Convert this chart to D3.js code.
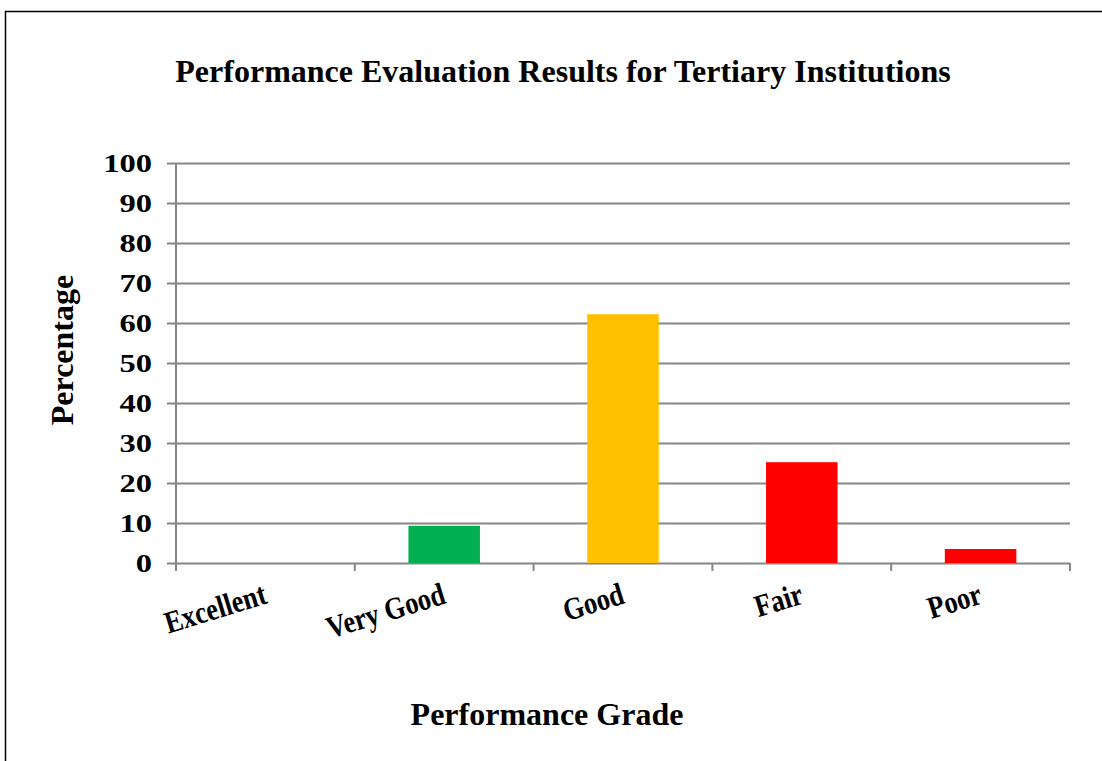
<!DOCTYPE html>
<html lang="en">
<head>
    <meta charset="UTF-8">
    <title>Performance Evaluation Results for Tertiary Institutions</title>
    <style>
        body { margin: 0; background: #fff; }
        svg { display: block; font-family: "Liberation Serif", "Times New Roman", serif; }
    </style>
</head>
<body>
    <svg id="chart" width="1102" height="761"></svg>
    <script src="https://cdn.jsdelivr.net/npm/d3@7"></script>
    <script>
        // data
        const grades = ["Excellent", "Very Good", "Good", "Fair", "Poor"];
        const percentages = [0, 9.3, 62.2, 25.2, 3.5];
        const barColors = ["#00B050", "#00B050", "#FFC000", "#FF0000", "#FF0000"];
        const yTicks = [0, 10, 20, 30, 40, 50, 60, 70, 80, 90, 100];

        const svg = d3.select("#chart");
        const margin = { left: 176, right: 1070, top: 163, bottom: 563 };

        // outer frame
        svg.append("rect")
            .attr("x", 5.5).attr("y", 11.5)
            .attr("width", 1110).attr("height", 800)
            .attr("fill", "none")
            .attr("stroke", "#000")
            .attr("stroke-width", 1.5);

        const x = d3.scaleBand()
            .domain(grades)
            .range([margin.left, margin.right])
            .paddingInner(0.6)
            .paddingOuter(0.3);

        const xEdge = d3.scaleLinear()
            .domain([0, grades.length])
            .range([margin.left, margin.right]);

        const y = d3.scaleLinear()
            .domain([0, 100])
            .range([margin.bottom, margin.top]);

        // gridlines
        svg.append("g")
            .selectAll("line")
            .data(yTicks)
            .join("line")
            .attr("x1", margin.left - 9)
            .attr("x2", margin.right)
            .attr("y1", d => Math.round(y(d)) + 0.5)
            .attr("y2", d => Math.round(y(d)) + 0.5)
            .attr("stroke", "#868686")
            .attr("stroke-width", 2);

        // y axis line
        svg.append("line")
            .attr("x1", margin.left).attr("x2", margin.left)
            .attr("y1", margin.top).attr("y2", margin.bottom + 7)
            .attr("stroke", "#868686")
            .attr("stroke-width", 2);

        // x ticks at category boundaries
        svg.append("g")
            .selectAll("line")
            .data(d3.range(grades.length + 1))
            .join("line")
            .attr("x1", d => xEdge(d)).attr("x2", d => xEdge(d))
            .attr("y1", margin.bottom).attr("y2", margin.bottom + 8)
            .attr("stroke", "#868686")
            .attr("stroke-width", 2);

        // y tick labels (a bit wider than tall, like the reference)
        svg.append("g")
            .selectAll("text")
            .data(yTicks)
            .join("text")
            .attr("transform", d => `translate(152,${y(d)}) scale(1.25,1)`)
            .attr("dy", "0.35em")
            .attr("text-anchor", "end")
            .attr("font-size", 26)
            .attr("font-weight", "bold")
            .text(d => d);

        // bars
        svg.append("g")
            .selectAll("rect")
            .data(grades)
            .join("rect")
            .attr("x", d => x(d))
            .attr("width", x.bandwidth())
            .attr("y", (d, i) => y(percentages[i]))
            .attr("height", (d, i) => y(0) - y(percentages[i]))
            .attr("fill", (d, i) => barColors[i]);

        // category labels
        svg.append("g")
            .selectAll("text")
            .data(grades)
            .join("text")
            .attr("transform", (d, i) => `translate(${(xEdge(i) + xEdge(i + 1)) / 2 + 3},${margin.bottom + 40}) rotate(-17) scale(0.95,1.12)`)
            .attr("text-anchor", "end")
            .attr("font-size", 28)
            .attr("font-weight", "bold")
            .text(d => d);

        // title and axis titles
        svg.append("text")
            .attr("x", 563).attr("y", 82)
            .attr("text-anchor", "middle")
            .attr("font-size", 32)
            .attr("font-weight", "bold")
            .text("Performance Evaluation Results for Tertiary Institutions");

        svg.append("text")
            .attr("transform", "translate(73,350) rotate(-90)")
            .attr("text-anchor", "middle")
            .attr("font-size", 32)
            .attr("font-weight", "bold")
            .text("Percentage");

        svg.append("text")
            .attr("x", 547).attr("y", 725)
            .attr("text-anchor", "middle")
            .attr("font-size", 32)
            .attr("font-weight", "bold")
            .text("Performance Grade");
    </script>
</body>
</html>
